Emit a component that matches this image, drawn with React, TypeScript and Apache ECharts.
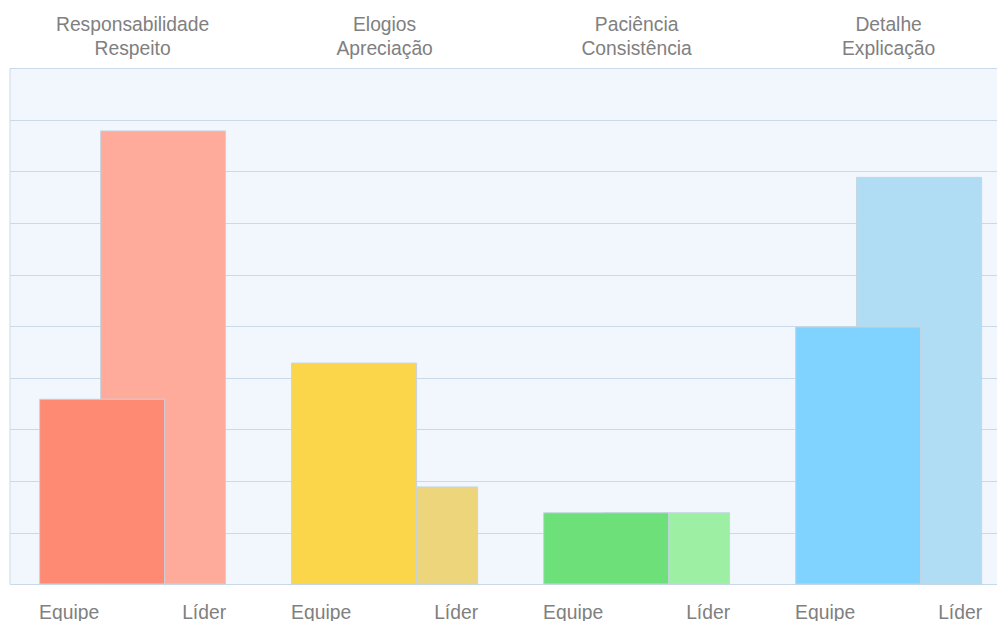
import React, { useEffect, useRef } from "react";
import * as echarts from "echarts";

const categoryLine1 = ["Responsabilidade", "Elogios", "Paciência", "Detalhe"];
const categoryLine2 = ["Respeito", "Apreciação", "Consistência", "Explicação"];
const seriesNames = ["Equipe", "Líder"];
const equipeValues = [3.6, 4.3, 1.4, 5.0];
const liderValues = [8.8, 1.9, 1.4, 7.9];
const equipeColors = ["#FF8A73", "#FCD64A", "#6EE07A", "#80D3FF"];
const liderColors = ["#FFAB9B", "#EDD57B", "#9DEFA3", "#B0DDF3"];
const yTicks = { min: 0, max: 10, interval: 1 };

const TEXT = "#808080";
const FONT = "'Liberation Sans', Arial, Helvetica, sans-serif";

export default function App() {
  const ref = useRef<HTMLDivElement>(null);
  useEffect(() => {
    if (!ref.current) return;
    const chart = echarts.init(ref.current, undefined, { renderer: "svg" });
    const categories = categoryLine1.map((a, i) => a + "\n" + categoryLine2[i]);
    const barBorder = { borderColor: "#C5D4E2", borderWidth: 1 };
    chart.setOption({
      animation: false,
      grid: {
        left: 10,
        top: 68.5,
        right: -21,
        bottom: 36.5,
        outerBoundsMode: "none",
        containLabel: false,
        show: true,
        backgroundColor: "#F2F7FE",
        borderColor: "#C9D9E8",
        borderWidth: 1,
      },
      xAxis: {
        type: "category",
        position: "top",
        data: categories,
        axisLine: { show: false },
        axisTick: { show: false },
        splitLine: { show: false },
        axisLabel: {
          color: TEXT,
          fontSize: 19.3,
          fontFamily: FONT,
          lineHeight: 24,
          margin: 8.5,
          interval: 0,
          padding: [0, 6.8, 0, 0],
        },
      },
      yAxis: {
        type: "value",
        min: yTicks.min,
        max: yTicks.max,
        interval: yTicks.interval,
        axisLine: { show: false },
        axisTick: { show: false },
        axisLabel: { show: false },
        splitLine: { show: true, lineStyle: { color: "#C9D9E8", width: 1 } },
      },
      series: [
        {
          name: seriesNames[0],
          type: "bar",
          z: 3,
          barWidth: 126,
          barGap: "-51.6%",
          data: equipeValues.map((v, i) => ({
            value: v,
            itemStyle: { color: equipeColors[i], ...barBorder },
          })),
          label: {
            show: true,
            position: [0, "100%"],
            align: "left",
            verticalAlign: "top",
            offset: [0, 18],
            formatter: () => seriesNames[0],
            color: TEXT,
            fontSize: 19.3,
            fontFamily: FONT,
            lineHeight: 20,
          },
        },
        {
          name: seriesNames[1],
          type: "bar",
          z: 2,
          barWidth: 126,
          barGap: "-51.6%",
          data: liderValues.map((v, i) => ({
            value: v,
            itemStyle: { color: liderColors[i], ...barBorder },
          })),
          label: {
            show: true,
            position: ["100%", "100%"],
            align: "right",
            verticalAlign: "top",
            offset: [0, 18],
            formatter: () => seriesNames[1],
            color: TEXT,
            fontSize: 19.3,
            fontFamily: FONT,
            lineHeight: 20,
          },
        },
        {
          name: "spacer",
          type: "bar",
          barWidth: 71.8,
          barGap: "-51.6%",
          silent: true,
          data: [],
        },
      ],
    });
    return () => chart.dispose();
  }, []);
  return (
    <div
      ref={ref}
      style={{ position: "absolute", left: 0, top: 0, width: 997, height: 621 }}
    />
  );
}
